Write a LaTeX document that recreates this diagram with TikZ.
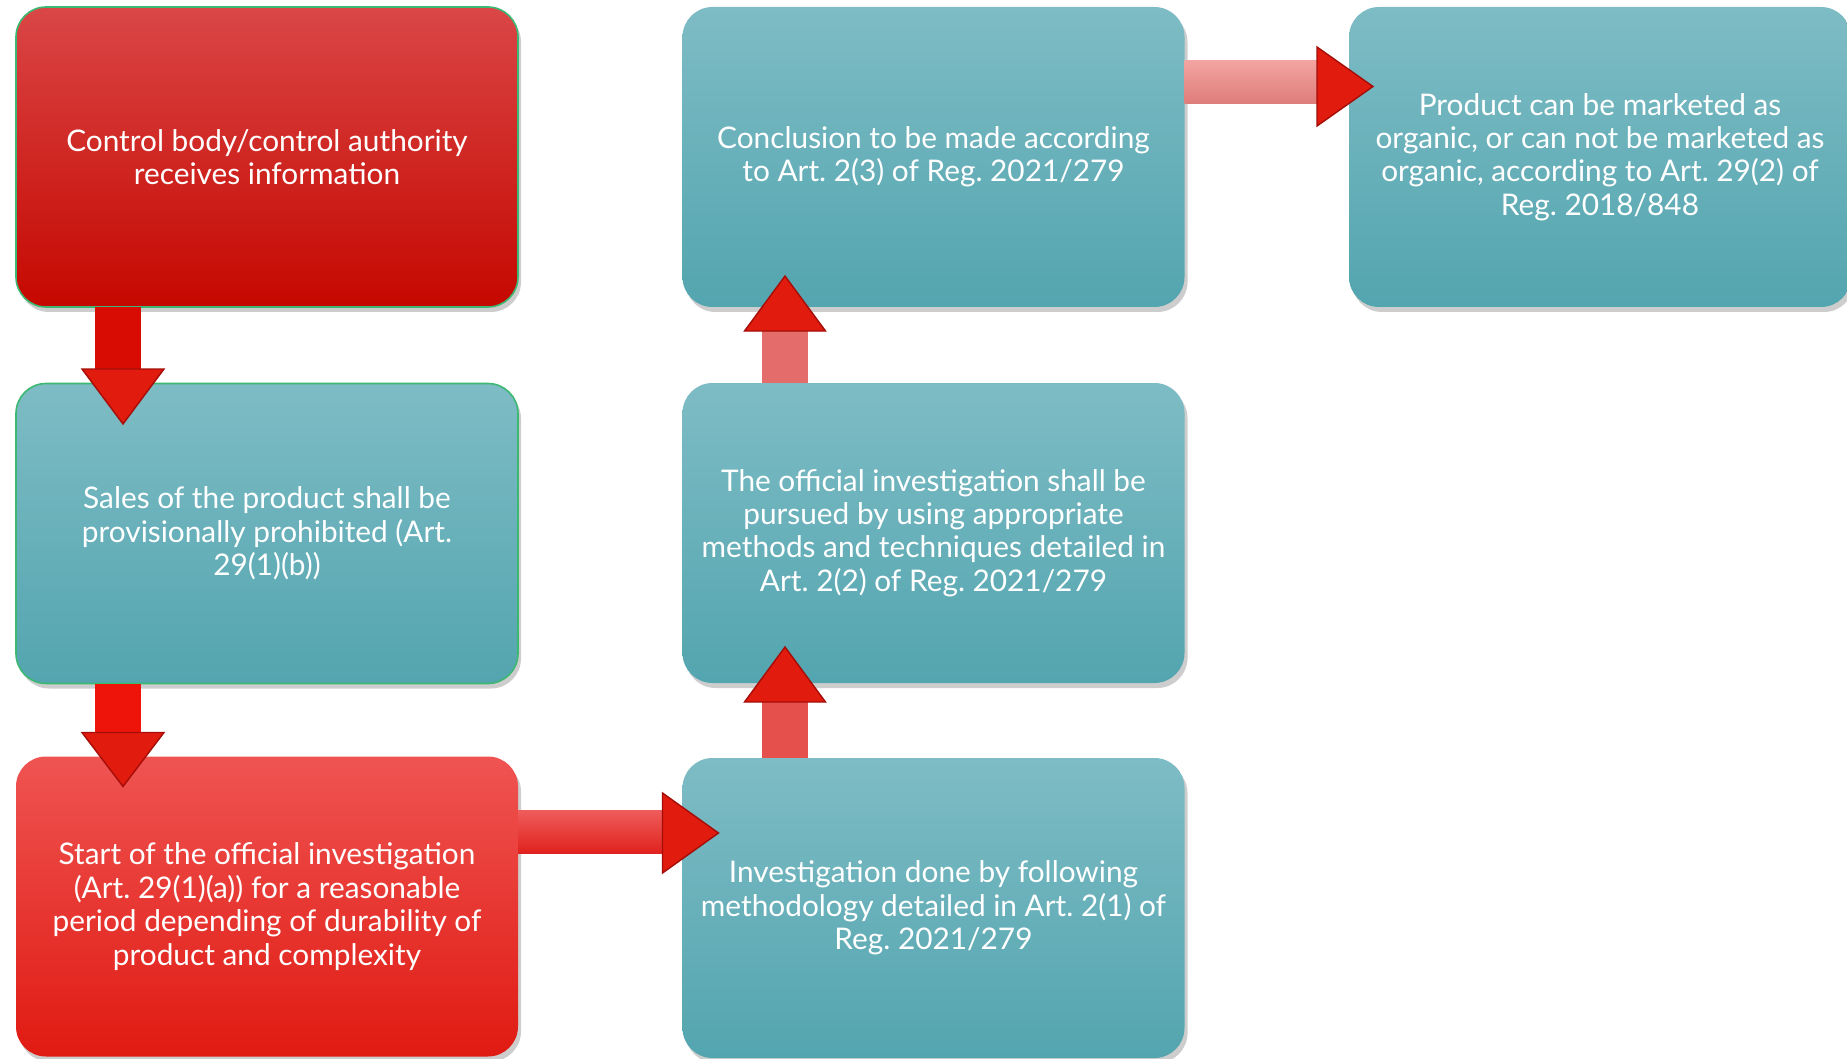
\documentclass[tikz,border=0pt]{standalone}
\usepackage{fontspec}
\setmainfont{Lato}
\frenchspacing
\usetikzlibrary{shadows,calc}
\definecolor{tealtop}{HTML}{7EBCC5}
\definecolor{tealbot}{HTML}{53A5AF}
\definecolor{redAtop}{HTML}{DA4646}
\definecolor{redAbot}{HTML}{C50800}
\definecolor{redBtop}{HTML}{EF5452}
\definecolor{redBbot}{HTML}{E01A12}
\definecolor{boxgreen}{HTML}{3DB873}
\definecolor{headfill}{HTML}{E11B0E}
\definecolor{headedge}{HTML}{A50E08}
\definecolor{shaftA}{HTML}{D90C03}
\definecolor{shaftB}{HTML}{EE1409}
\definecolor{shaftCtop}{HTML}{EE5C5A}
\definecolor{shaftCbot}{HTML}{E0221E}
\definecolor{shaftD}{HTML}{E5504C}
\definecolor{shaftE}{HTML}{E46C6A}
\definecolor{shaftFtop}{HTML}{F2A4A1}
\definecolor{shaftFbot}{HTML}{DF7C7A}
\tikzset{
  box/.style={rounded corners=30pt, minimum width=502pt, minimum height=300pt,
    text=white, align=center, inner sep=0pt, outer sep=0pt,
    font=\fontsize{29.8}{33.4}\selectfont\frenchspacing,
    drop shadow={shadow xshift=3pt, shadow yshift=-5pt, opacity=0.28, fill=black!70}},
  tealbox/.style={box, top color=tealtop, bottom color=tealbot},
  redboxA/.style={box, top color=redAtop, bottom color=redAbot},
  redboxB/.style={box, top color=redBtop, bottom color=redBbot},
  greenedge/.style={draw=boxgreen, line width=1.6pt},
  arrowhead/.style={fill=headfill, draw=headedge, line width=1.4pt, line join=miter},
}
\begin{document}
\begin{tikzpicture}[x=1pt,y=-1pt]
\useasboundingbox (0,0) rectangle (1847,1059);
\clip (0,0) rectangle (1847,1059);

% boxes
\node[redboxA, greenedge] (b1) at (267,157) {Control body/control authority\\receives information};
\node[tealbox, greenedge] (b2) at (267,533.5) {Sales of the product shall be\\provisionally prohibited (Art.\\29(1)(b))};
\node[redboxB] (b3) at (267,906.5) {Start of the official investigation\\(Art. 29(1)(a)) for a reasonable\\period depending of durability of\\product and complexity};
\node[tealbox] (b4) at (933.5,908) {Investigation done by following\\methodology detailed in Art. 2(1) of\\Reg. 2021/279};
\node[tealbox] (b5) at (933.5,533) {The official investigation shall be\\pursued by using appropriate\\methods and techniques detailed in\\Art. 2(2) of Reg. 2021/279};
\node[tealbox] (b6) at (933.5,157) {Conclusion to be made according\\to Art. 2(3) of Reg. 2021/279};
\node[tealbox] (b7) at (1600,157) {Product can be marketed as\\organic, or can not be marketed as\\organic, according to Art. 29(2) of\\Reg. 2018/848};

% arrow b1 -> b2
\fill[shaftA] ($(b1.south west)+(79,0)$) rectangle ($(b1.south west)+(125,62)$);
\filldraw[arrowhead] ($(b1.south west)+(66,62)$) -- ($(b1.south west)+(148,62)$) -- ($(b1.south west)+(107,117)$) -- cycle;

% arrow b2 -> b3
\fill[shaftB] ($(b2.south west)+(79,0)$) rectangle ($(b2.south west)+(125,49)$);
\filldraw[arrowhead] ($(b2.south west)+(66,49)$) -- ($(b2.south west)+(148,49)$) -- ($(b2.south west)+(107,103)$) -- cycle;

% arrow b3 -> b4
\fill[top color=shaftCtop, bottom color=shaftCbot] ($(b3.north east)+(0,54)$) rectangle ($(b4.north west)+(-20,95)$);
\filldraw[arrowhead] ($(b4.north west)+(-20,35)$) -- ($(b4.north west)+(-20,115)$) -- ($(b4.north west)+(36,75)$) -- cycle;

% arrow b4 -> b5
\fill[shaftD] ($(b4.north west)+(79,0)$) rectangle ($(b4.north west)+(125,-56)$);
\filldraw[arrowhead] ($(b4.north west)+(62,-56)$) -- ($(b4.north west)+(143,-56)$) -- ($(b4.north west)+(102.5,-111)$) -- cycle;

% arrow b5 -> b6
\fill[shaftE] ($(b5.north west)+(79,0)$) rectangle ($(b5.north west)+(125,-52)$);
\filldraw[arrowhead] ($(b5.north west)+(62,-52)$) -- ($(b5.north west)+(143,-52)$) -- ($(b5.north west)+(102.5,-107)$) -- cycle;

% arrow b6 -> b7
\fill[top color=shaftFtop, bottom color=shaftFbot] ($(b6.north east)+(0,54)$) rectangle ($(b7.north west)+(-32,97)$);
\filldraw[arrowhead] ($(b7.north west)+(-32,40)$) -- ($(b7.north west)+(-32,119)$) -- ($(b7.north west)+(24,79.5)$) -- cycle;
\end{tikzpicture}
\end{document}
